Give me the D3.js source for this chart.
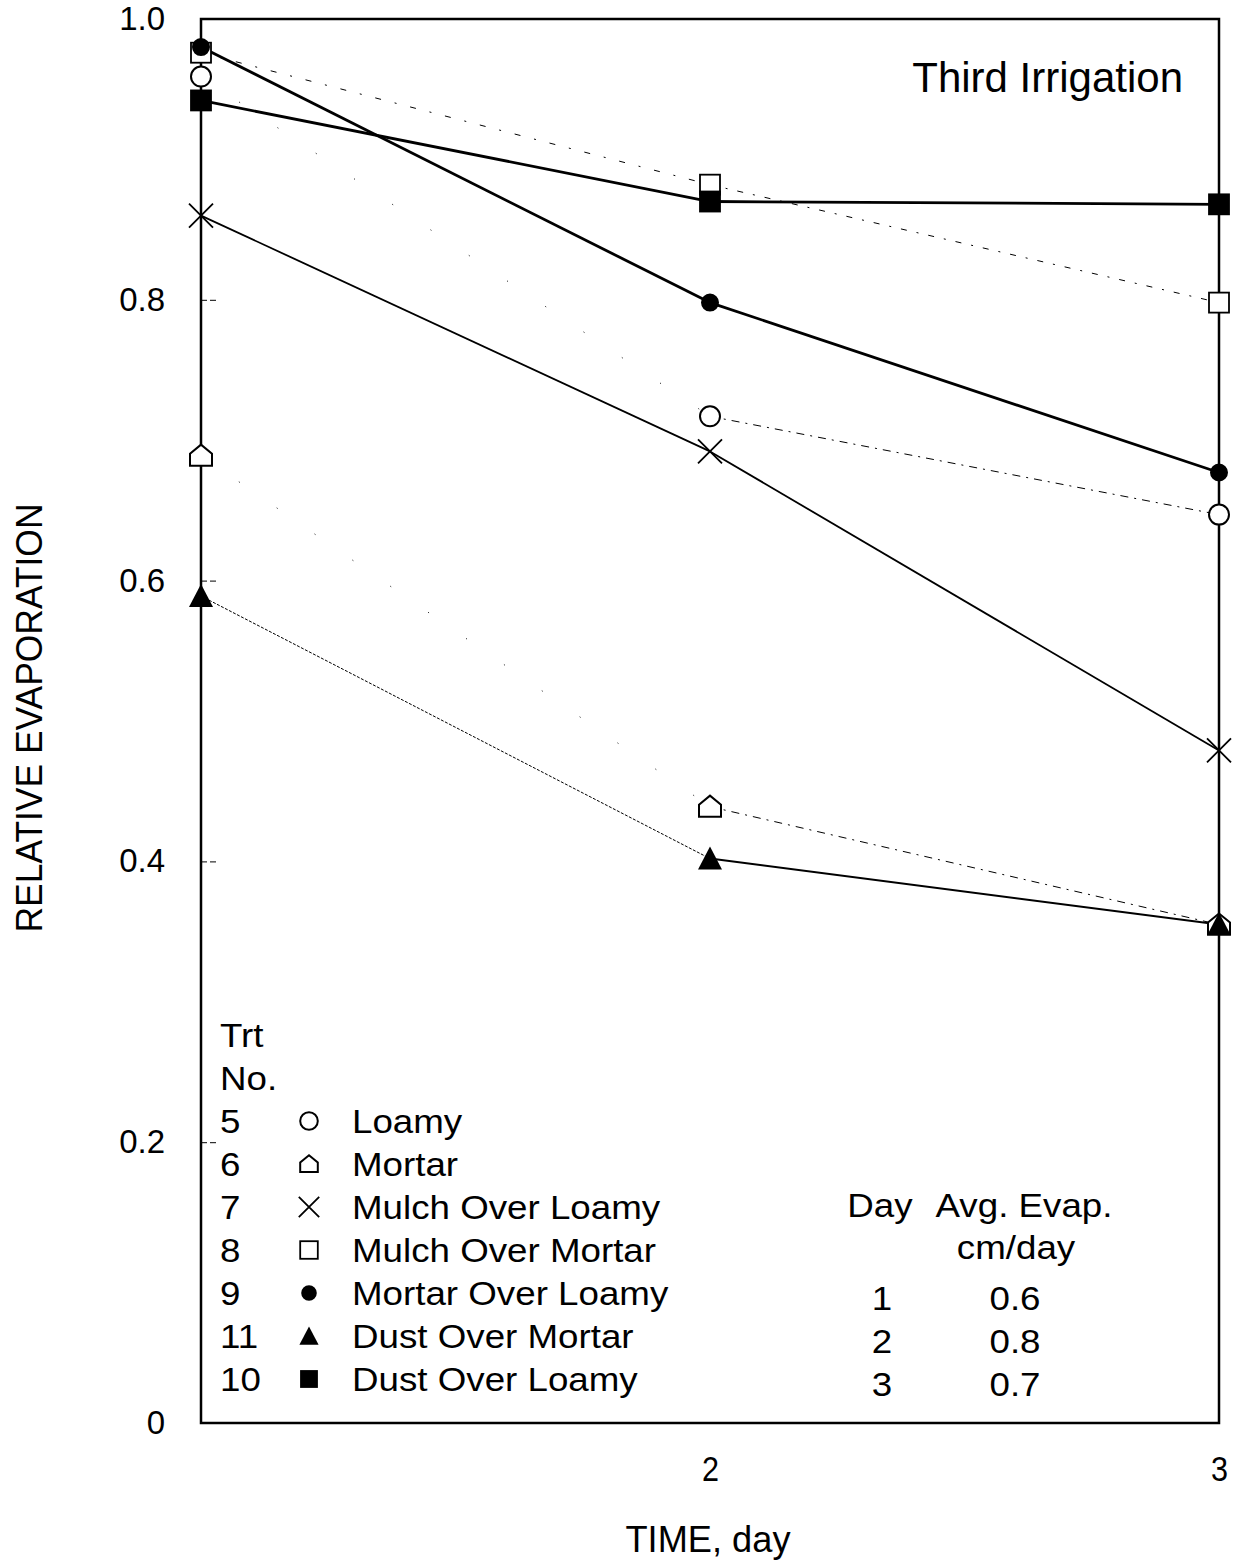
<!DOCTYPE html>
<html>
<head>
<meta charset="utf-8">
<script src="https://cdn.jsdelivr.net/npm/d3@7"></script>
<style>
  body { margin: 0; background: #fff; }
  svg { font-family: "Liberation Sans", Arial, sans-serif; }
</style>
</head>
<body>
<div id="chart"></div>
<script>
// data
const days = [1, 2, 3];
const trtNos = ["5", "6", "7", "8", "9", "11", "10"];
const names = ["Loamy", "Mortar", "Mulch Over Loamy", "Mulch Over Mortar",
               "Mortar Over Loamy", "Dust Over Mortar", "Dust Over Loamy"];
const loamy = [0.959, 0.717, 0.647];
const mortar = [0.689, 0.439, 0.355];
const mulchOverLoamy = [0.860, 0.692, 0.479];
const mulchOverMortar = [0.976, 0.882, 0.798];
const mortarOverLoamy = [0.980, 0.798, 0.677];
const dustOverMortar = [0.589, 0.402, 0.355];
const dustOverLoamy = [0.942, 0.870, 0.868];
const yTicks = [0, 0.2, 0.4, 0.6, 0.8, 1.0];
const xTicks = [2, 3];
const tableDays = ["1", "2", "3"];
const tableEvap = ["0.6", "0.8", "0.7"];

const width = 1233, height = 1563;

const svg = d3.select("#chart").append("svg")
    .attr("width", width)
    .attr("height", height);

const x = d3.scaleLinear().domain([1, 3]).range([201, 1219]);
const y = d3.scaleLinear().domain([0, 1]).range([1423, 19]);

// stretch text a bit wider, like the scanned lettering
function stretch(sel, f) {
    sel.each(function () {
        const len = this.getComputedTextLength();
        d3.select(this).attr("textLength", len * f).attr("lengthAdjust", "spacingAndGlyphs");
    });
}

// house shape for Mortar
const house = "M-11,10L11,10L11,-2L0,-11L-11,-2Z";

// per-segment line styles: [width, dasharray] for day1-2 and day2-3
const series = [
    { vals: loamy, shape: "circle", fill: "#fff", r: 10, seg: [[1, "1,45"], [1, "8,6,2,6"]] },
    { vals: mortar, shape: "house", fill: "#fff", seg: [[1, "1,45"], [1, "8,6,2,6"]] },
    { vals: mulchOverLoamy, shape: "x", seg: [[1.8, null], [1.8, null]] },
    { vals: mulchOverMortar, shape: "square", fill: "#fff", s: 20, seg: [[1, "6,14,2,14"], [1, "6,10,2,10"]] },
    { vals: mortarOverLoamy, shape: "circle", fill: "#000", r: 8, seg: [[2.8, null], [2.8, null]] },
    { vals: dustOverMortar, shape: "triangle", seg: [[1, "3,1.5"], [2, null]] },
    { vals: dustOverLoamy, shape: "square", fill: "#000", s: 20, seg: [[2.8, null], [2.8, null]] }
];

// frame
svg.append("rect")
    .attr("x", x(1)).attr("y", y(1))
    .attr("width", x(3) - x(1)).attr("height", y(0) - y(1))
    .attr("fill", "none").attr("stroke", "#000").attr("stroke-width", 2.5);

// y axis
const yAxis = d3.axisLeft(y)
    .tickValues(yTicks)
    .tickSizeInner(-16)
    .tickSizeOuter(0)
    .tickPadding(36)
    .tickFormat(d => d === 0 ? "0" : d3.format(".1f")(d));

const gy = svg.append("g")
    .attr("transform", `translate(${x(1)},0)`)
    .call(yAxis);
gy.select(".domain").remove();
gy.selectAll("line").attr("stroke-width", 1).attr("stroke-dasharray", "6,3");
gy.selectAll("text").attr("font-size", 33).attr("fill", "#000");

// x axis
const xAxis = d3.axisBottom(x)
    .tickValues(xTicks)
    .tickSize(0)
    .tickPadding(32)
    .tickFormat(d3.format("d"));

const gx = svg.append("g")
    .attr("transform", `translate(0,${y(0)})`)
    .call(xAxis);
gx.select(".domain").remove();
gx.selectAll("text").attr("font-size", 36).attr("fill", "#000")
    .attr("transform", "scale(0.85,1)");

// axis titles
svg.append("text")
    .attr("x", 708).attr("y", 1552)
    .attr("text-anchor", "middle")
    .attr("font-size", 37)
    .attr("textLength", 165)
    .attr("lengthAdjust", "spacingAndGlyphs")
    .text("TIME, day");

svg.append("text")
    .attr("transform", "translate(42,718) rotate(-90)")
    .attr("text-anchor", "middle")
    .attr("font-size", 36)
    .attr("textLength", 429)
    .attr("lengthAdjust", "spacingAndGlyphs")
    .text("RELATIVE EVAPORATION");

svg.append("text")
    .attr("x", 1183).attr("y", 92)
    .attr("text-anchor", "end")
    .attr("font-size", 42)
    .text("Third Irrigation");

// lines, one segment at a time
const line = d3.line()
    .x(d => x(d[0]))
    .y(d => y(d[1]));

series.forEach(s => {
    s.seg.forEach((st, i) => {
        svg.append("path")
            .datum([[days[i], s.vals[i]], [days[i + 1], s.vals[i + 1]]])
            .attr("d", line)
            .attr("fill", "none")
            .attr("stroke", "#000")
            .attr("stroke-width", st[0])
            .attr("stroke-dasharray", st[1]);
    });
});

// marker drawing
function drawMarker(g, shape, cx, cy, k, s) {
    if (shape === "circle") {
        g.append("circle").attr("cx", cx).attr("cy", cy).attr("r", s.r * k)
            .attr("fill", s.fill).attr("stroke", "#000").attr("stroke-width", 2);
    } else if (shape === "square") {
        const a = s.s * k;
        g.append("rect").attr("x", cx - a / 2).attr("y", cy - a / 2)
            .attr("width", a).attr("height", a)
            .attr("fill", s.fill).attr("stroke", "#000").attr("stroke-width", 1.8);
    } else if (shape === "house") {
        g.append("path").attr("d", house)
            .attr("transform", `translate(${cx},${cy}) scale(${k})`)
            .attr("fill", "#fff").attr("stroke", "#000").attr("stroke-width", 2 / k);
    } else if (shape === "triangle") {
        g.append("path").attr("d", "M0,-12L12,11L-12,11Z")
            .attr("transform", `translate(${cx},${cy}) scale(${k})`)
            .attr("fill", "#000");
    } else if (shape === "x") {
        g.append("path").attr("d", "M-12,-12L12,12M-12,12L12,-12")
            .attr("transform", `translate(${cx},${cy}) scale(${k})`)
            .attr("stroke", "#000").attr("stroke-width", 1.8 / k).attr("fill", "none");
    }
}

const marks = svg.append("g");
series.forEach(s => {
    s.vals.forEach((v, i) => drawMarker(marks, s.shape, x(days[i]), y(v), 1, s));
});

// legend
const leg = svg.append("g").attr("font-size", 34);
leg.append("text").attr("x", 220).attr("y", 1047).text("Trt");
leg.append("text").attr("x", 220).attr("y", 1090).text("No.");
trtNos.forEach((t, i) => {
    const cy = 1121 + i * 43;
    leg.append("text").attr("x", 220).attr("y", cy + 12).text(t);
    leg.append("text").attr("x", 352).attr("y", cy + 12).text(names[i]);
    const s = series[i];
    const k = s.shape === "x" ? 0.85 : 0.8;
    drawMarker(leg, s.shape, 309, cy, k,
        s.shape === "circle" ? Object.assign({}, s, { r: s.fill === "#000" ? 8.5 : 11 }) :
        s.shape === "square" ? Object.assign({}, s, { s: s.fill === "#000" ? 20 : 22 }) : s);
});
stretch(leg.selectAll("text"), 1.08);

// day / avg evap table
const tab = svg.append("g").attr("font-size", 34);
tab.append("text").attr("x", 880).attr("y", 1217).attr("text-anchor", "middle").text("Day");
tab.append("text").attr("x", 1024).attr("y", 1217).attr("text-anchor", "middle").text("Avg. Evap.");
tab.append("text").attr("x", 1016).attr("y", 1259).attr("text-anchor", "middle").text("cm/day");
tableDays.forEach((d, i) => {
    const ty = 1310 + i * 43;
    tab.append("text").attr("x", 882).attr("y", ty).attr("text-anchor", "middle").text(d);
    tab.append("text").attr("x", 1015).attr("y", ty).attr("text-anchor", "middle").text(tableEvap[i]);
});
stretch(tab.selectAll("text"), 1.08);
</script>
</body>
</html>
